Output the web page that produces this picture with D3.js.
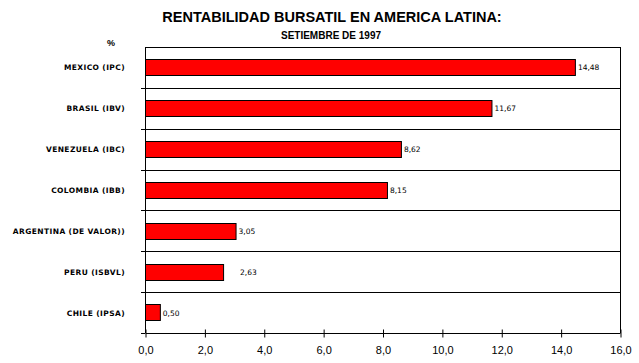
<!DOCTYPE html>
<html>
<head>
<meta charset="utf-8">
<script src="https://cdn.jsdelivr.net/npm/d3@7"></script>
<style>
  body { margin: 0; background: #fff; }
  svg { display: block; }
</style>
</head>
<body>
<div id="chart"></div>
<script>
const width = 639;
const height = 363;

// datos
const categories = ["MEXICO (IPC)", "BRASIL (IBV)", "VENEZUELA (IBC)", "COLOMBIA (IBB)",
    "ARGENTINA (DE VALOR))", "PERU (ISBVL)", "CHILE (IPSA)"];
const values = [14.48, 11.67, 8.62, 8.15, 3.05, 2.63, 0.50];
const xTicks = [0, 2, 4, 6, 8, 10, 12, 14, 16];

const margin = {top: 47, right: 19, bottom: 30, left: 145};
const plotW = width - margin.left - margin.right;
const plotH = height - margin.top - margin.bottom;

const fmt = v => d3.format(",.2f")(v).replace(".", ",");
const fmtTick = v => d3.format(".1f")(v).replace(".", ",");

const svg = d3.select("#chart").append("svg").attr("width", width).attr("height", height);

svg.append("text")
    .attr("x", 332).attr("y", 22)
    .attr("text-anchor", "middle")
    .style("font", "bold 14.5px 'Liberation Sans', Arial, sans-serif")
    .text("RENTABILIDAD BURSATIL EN AMERICA LATINA:");

svg.append("text")
    .attr("x", 331).attr("y", 39)
    .attr("text-anchor", "middle")
    .style("font", "bold 10px 'Liberation Sans', Arial, sans-serif")
    .text("SETIEMBRE DE 1997");

svg.append("text")
    .attr("x", 111).attr("y", 46)
    .attr("text-anchor", "middle")
    .style("font", "bold 9px 'Liberation Sans', Arial, sans-serif")
    .text("%");

const g = svg.append("g").attr("transform", `translate(${margin.left},${margin.top})`);

const x = d3.scaleLinear().domain([0, 16]).range([0, plotW]);
const y = d3.scaleBand().domain(categories).range([0, plotH]).paddingInner(0).paddingOuter(0);
const barPad = 0.3;

// lineas horizontales entre categorias
const bounds = d3.range(0, categories.length + 1).map(i => i * y.step());
g.selectAll("line.grid")
    .data(bounds.slice(0, -1))
    .enter().append("line")
    .attr("class", "grid")
    .attr("x1", 0).attr("x2", plotW)
    .attr("y1", d => Math.round(d) + 0.5).attr("y2", d => Math.round(d) + 0.5)
    .attr("stroke", "#000").attr("stroke-width", 1);

// ticks a la izquierda
g.selectAll("line.ltick")
    .data(bounds.slice(1))
    .enter().append("line")
    .attr("x1", -4).attr("x2", 0)
    .attr("y1", d => Math.round(d) + 0.5).attr("y2", d => Math.round(d) + 0.5)
    .attr("stroke", "#000");

// borde derecho y eje izquierdo
g.append("line").attr("x1", Math.round(plotW) + 0.5).attr("x2", Math.round(plotW) + 0.5)
    .attr("y1", 0).attr("y2", plotH).attr("stroke", "#000");
g.append("line").attr("x1", 0.5).attr("x2", 0.5)
    .attr("y1", 0).attr("y2", plotH).attr("stroke", "#000");

// barras
g.selectAll("rect.bar")
    .data(values)
    .enter().append("rect")
    .attr("x", 0.5)
    .attr("y", (d, i) => Math.round(y(categories[i]) + y.bandwidth() * barPad) + 0.5)
    .attr("width", d => x(d))
    .attr("height", Math.round(y.bandwidth() * (1 - 2 * barPad)))
    .attr("fill", "#ff0000")
    .attr("stroke", "#000")
    .attr("stroke-width", 1);

// etiquetas de valores
g.selectAll("text.val")
    .data(values)
    .enter().append("text")
    .attr("x", (d, i) => x(d) + (categories[i].startsWith("PERU") ? 17 : 3))
    .attr("y", (d, i) => y(categories[i]) + y.bandwidth() / 2 + 3)
    .style("font", "7.5px 'DejaVu Sans', sans-serif")
    .text(d => fmt(d));

// etiquetas de categorias
g.selectAll("text.cat")
    .data(categories)
    .enter().append("text")
    .attr("x", -20)
    .attr("y", d => y(d) + y.bandwidth() / 2 + 3)
    .attr("text-anchor", "end")
    .style("font", "bold 7.5px 'DejaVu Sans', sans-serif")
    .style("letter-spacing", "0.4px")
    .text(d => d);

// eje x
const xAxis = d3.axisBottom(x).tickValues(xTicks).tickFormat(fmtTick).tickSize(4).tickSizeOuter(0);
const ax = g.append("g").attr("transform", `translate(0.5,${Math.round(plotH) + 0.5})`).call(xAxis);
ax.select(".domain").attr("stroke", "#000").attr("d", `M0,0H${plotW}`);
ax.selectAll(".tick line").attr("y1", -4).attr("y2", 4).attr("stroke", "#000");
ax.selectAll(".tick text")
    .attr("y", 13)
    .style("font", "11px 'Liberation Sans', Arial, sans-serif")
    .attr("fill", "#000");
</script>
</body>
</html>
